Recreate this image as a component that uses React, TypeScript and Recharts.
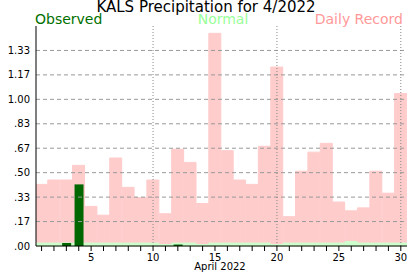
import React from 'react';
import { ComposedChart, Bar, XAxis, YAxis, ReferenceLine } from 'recharts';

const days = [1, 2, 3, 4, 5, 6, 7, 8, 9, 10, 11, 12, 13, 14, 15, 16, 17, 18, 19, 20, 21, 22, 23, 24, 25, 26, 27, 28, 29, 30];
const record = [0.42, 0.45, 0.45, 0.55, 0.27, 0.21, 0.60, 0.40, 0.33, 0.45, 0.22, 0.66, 0.57, 0.29, 1.45, 0.65, 0.45, 0.42, 0.68, 1.22, 0.20, 0.51, 0.64, 0.70, 0.30, 0.24, 0.26, 0.51, 0.36, 1.04];
const normal = [0.02, 0.02, 0.02, 0.02, 0.02, 0.02, 0.02, 0.02, 0.02, 0.02, 0.01, 0.02, 0.02, 0.01, 0.02, 0.02, 0.02, 0.02, 0.02, 0.01, 0.02, 0.02, 0.02, 0.02, 0.02, 0.03, 0.02, 0.02, 0.02, 0.02];
const observed = [null, null, 0.02, 0.42, null, null, null, null, null, null, null, 0.01, null, null, null, null, null, null, null, null, null, null, null, null, null, null, null, null, null, null];
const yTicks = [0, 0.1667, 0.3333, 0.5, 0.6667, 0.8333, 1.0, 1.1667, 1.3333];
const vGridDays = [10, 20, 30];

const title = 'KALS Precipitation for 4/2022';
const xLabel = 'April 2022';

const data = days.map((d, i) => ({ day: d, record: record[i], normal: normal[i], observed: observed[i] }));

const FONT = 'DejaVu Sans, Verdana, sans-serif';
const X_DOMAIN: [number, number] = [0.55, 30.5];
const Y_DOMAIN: [number, number] = [0, 1.5];

const fmtY = (v: number) => {
  const s = v.toFixed(2);
  return v < 1 ? s.replace(/^0/, '') : s;
};

export default function App() {
  return (
    <div style={{ position: 'absolute', left: 0, top: 0, width: 417, height: 276, background: '#fff' }}>
      <ComposedChart
        width={417}
        height={276}
        data={data}
        margin={{ top: 26, right: 10, bottom: 0, left: 0 }}
        barCategoryGap={0}
        barGap={0}
      >
        <XAxis
          xAxisId="main"
          dataKey="day"
          type="number"
          domain={X_DOMAIN}
          allowDataOverflow
          ticks={days}
          interval={0}
          tickFormatter={(d: number) => (d % 5 === 0 ? String(d) : '')}
          height={30}
          tickSize={5}
          tickMargin={3}
          axisLine={{ stroke: '#000' }}
          tickLine={{ stroke: '#000' }}
          tick={{ fontSize: 10, fill: '#000', fontFamily: FONT }}
        />
        <XAxis
          xAxisId="top"
          dataKey="day"
          type="number"
          orientation="top"
          domain={X_DOMAIN}
          allowDataOverflow
          height={0}
          tick={false}
          tickLine={false}
          axisLine={{ stroke: '#000' }}
        />
        <XAxis
          xAxisId="obs"
          dataKey="day"
          type="number"
          domain={X_DOMAIN}
          allowDataOverflow
          hide
        />
        <YAxis
          type="number"
          domain={Y_DOMAIN}
          ticks={yTicks}
          interval={0}
          width={36}
          tickFormatter={fmtY}
          tickLine={false}
          tickSize={4}
          tickMargin={2}
          axisLine={{ stroke: '#000' }}
          tick={{ fontSize: 10, fill: '#000', fontFamily: FONT }}
        />
        <YAxis
          yAxisId="right"
          orientation="right"
          type="number"
          domain={Y_DOMAIN}
          width={0}
          tick={false}
          tickLine={false}
          axisLine={{ stroke: '#000' }}
        />
        <Bar xAxisId="main" dataKey="record" fill="#ffcccc" stroke="#ffcccc" strokeWidth={1} isAnimationActive={false} />
        <Bar xAxisId="top" dataKey="normal" fill="#ccffcc" stroke="#ccffcc" strokeWidth={1} isAnimationActive={false} />
        {yTicks.slice(1).map((t) => (
          <ReferenceLine key={'h' + t} xAxisId="main" y={t} stroke="#999" strokeDasharray="4 3" />
        ))}
        {vGridDays.map((d) => (
          <ReferenceLine key={'v' + d} xAxisId="main" x={d} stroke="#888" strokeDasharray="1 2" />
        ))}
        <Bar xAxisId="obs" dataKey="observed" fill="#006600" barSize={9} isAnimationActive={false} />
      </ComposedChart>
      <svg width={417} height={276} style={{ position: 'absolute', left: 0, top: 0, pointerEvents: 'none' }}>
        <text x={206} y={12} textAnchor="middle" fontSize={15} fontFamily={FONT} fill="#000">{title}</text>
        <text x={35} y={24} textAnchor="start" fontSize={14} fontFamily={FONT} fill="#007000">Observed</text>
        <text x={223} y={24} textAnchor="middle" fontSize={14} fontFamily={FONT} fill="#99ff99">Normal</text>
        <text x={403} y={24} textAnchor="end" fontSize={14} fontFamily={FONT} fill="#ff9999">Daily Record</text>
        <text x={220} y={270} textAnchor="middle" fontSize={10} fontFamily={FONT} fill="#000">{xLabel}</text>
      </svg>
    </div>
  );
}
